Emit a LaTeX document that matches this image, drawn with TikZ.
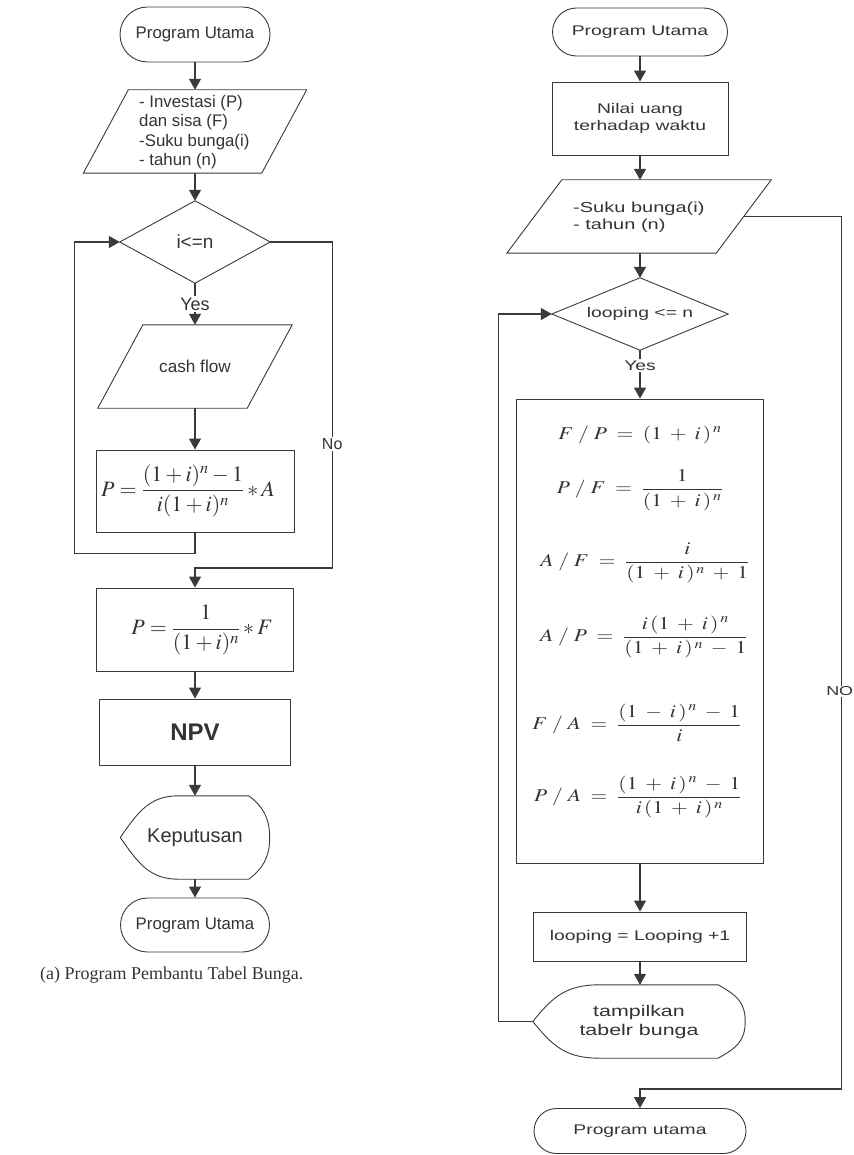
\documentclass[tikz,border=0pt]{standalone}
\usepackage{amsmath}
\usepackage{mathptmx}
\usepackage[no-math]{fontspec}
\usepackage{graphicx}
\setmainfont{Liberation Serif}
\newfontfamily\lsans{Liberation Sans}
\newfontfamily\rsans[FakeStretch=1.38]{Liberation Sans}
\usetikzlibrary{shapes.geometric,shapes.misc,arrows.meta,calc}
\definecolor{lc}{HTML}{3A3A3A}
\definecolor{tc}{HTML}{333333}
\newcommand\paradraw[2]{\draw[shp] (#1.south west) -- ($(#1.north west)+(#2,0)$) -- (#1.north east) -- ($(#1.south east)+(-#2,0)$) -- cycle;}
\newcommand\diadraw[1]{\draw[shp] (#1.north) -- (#1.east) -- (#1.south) -- (#1.west) -- cycle;}
\newcommand\dispdraw[3]{\draw[shp] (#1.west) .. controls +({0.3*#2},-25) and +({-0.5*#2},0) .. ($(#1.north west)+(#2,0)$) -- ($(#1.north east)+(-#3,0)$) .. controls +({0.65*#3},10) and +(0,-20) .. (#1.east) .. controls +(0,20) and +({0.65*#3},-10) .. ($(#1.south east)+(-#3,0)$) -- ($(#1.south west)+(#2,0)$) .. controls +({-0.5*#2},0) and +({0.3*#2},25) .. (#1.west) -- cycle;}
\newcommand\rmath[1]{\scalebox{1.2}[1]{$\displaystyle #1$}}
\tikzset{
  shp/.style={draw=lc, line width=0.9pt},
  con/.style={draw=lc, line width=1.2pt},
  arr/.style={con, -{Triangle[length=11pt,width=12pt]}},
  lfont/.style={font=\lsans\fontsize{16.8}{19.5}\selectfont, text=tc},
  rfont/.style={font=\rsans\fontsize{14}{17.5}\selectfont, text=tc},
  term/.style={shp, rounded rectangle, inner sep=0pt},
  proc/.style={shp, rectangle, inner sep=0pt},
  ghost/.style={rectangle, inner sep=0pt, draw=none},
  lab/.style={fill=white, inner sep=1.5pt},
  lmath/.style={font=\fontsize{22}{26}\selectfont, text=tc, inner sep=0pt},
  rmathst/.style={font=\fontsize{18}{21}\selectfont, text=tc, inner sep=0pt},
}
\begin{document}
\begin{tikzpicture}[x=1pt,y=-1pt]
\useasboundingbox (0,0) rectangle (853,1155);
% ---------------- left chart ----------------
\node[term, lfont, minimum width=150pt, minimum height=55pt] (t1) at (195,34.5) {Program Utama};
\node[ghost, minimum width=223pt, minimum height=83pt] (p1) at (195,131.5) {};
\paradraw{p1}{45}
\node[lfont, align=left, anchor=west, inner sep=0pt] (p1t) at (139,132) {- Investasi (P)\\dan sisa (F)\\-Suku bunga(i)\\- tahun (n)};
\node[ghost, lfont, font=\lsans\fontsize{19}{22}\selectfont, minimum width=150pt, minimum height=82pt] (d1) at (195,242) {i<=n};
\diadraw{d1}
\node[ghost, lfont, font=\lsans\fontsize{17.2}{20}\selectfont, minimum width=194pt, minimum height=83pt] (p2) at (195,366.5) {cash flow};
\paradraw{p2}{45}
\node[proc, minimum width=198pt, minimum height=82pt] (b1) at (195,491) {};
\node[lmath] (f1) at (188,491) {$P=\dfrac{(1+i)^n -1}{i(1+i)^n}*A$};
\node[proc, minimum width=197pt, minimum height=83pt] (b2) at (195,629.5) {};
\node[lmath] (f2) at (202,630) {$P=\dfrac{1}{(1+i)^n}*F$};
\node[proc, minimum width=191pt, minimum height=66pt, font=\lsans\bfseries\fontsize{24}{28}\selectfont, text=tc] (b3) at (195,732) {NPV};
\node[ghost, lfont, font=\lsans\fontsize{20}{24}\selectfont, minimum width=149pt, minimum height=83pt] (k1) at (195,837.5) {Keputusan};
\dispdraw{k1}{58}{21}
\node[term, lfont, minimum width=149pt, minimum height=54pt] (t2) at (195,925) {Program Utama};
\node[font=\fontsize{18}{22}\selectfont, anchor=west, text=tc, inner sep=0pt] (cap) at (40,975) {(a) Program Pembantu Tabel Bunga.};
% left connectors
\draw[arr] (t1.south) -- (p1.north);
\draw[arr] (p1.south) -- (d1.north);
\draw[arr] (d1.south) -- node[lab, lfont, font=\lsans\fontsize{18}{21}\selectfont, pos=0.5]{Yes} (p2.north);
\draw[arr] (p2.south) -- (b1.north);
\draw[arr] (b1.south) -- ++(0,21) -| ($(d1.west)+(-45,0)$) -- (d1.west);
\draw[arr] (d1.east) -- ++(62,0) -- ++(0,326) node[lab, lfont, font=\lsans\fontsize{16}{19}\selectfont, pos=0.62]{No} -| (b2.north);
\draw[arr] (b2.south) -- (b3.north);
\draw[arr] (b3.south) -- (k1.north);
\draw[arr] (k1.south) -- (t2.north);
% ---------------- right chart ----------------
\node[term, rfont, minimum width=175pt, minimum height=48pt] (t3) at (640,32) {Program Utama};
\node[proc, rfont, align=center, minimum width=176pt, minimum height=73pt] (b4) at (640,118.5) {Nilai uang\\terhadap waktu};
\node[ghost, minimum width=264pt, minimum height=73pt] (p3) at (639,216.5) {};
\paradraw{p3}{55}
\node[rfont, font=\rsans\fontsize{14.5}{17.5}\selectfont, align=left, anchor=west, inner sep=0pt] (p3t) at (573,217) {-Suku bunga(i)\\- tahun (n)};
\node[ghost, rfont, minimum width=176pt, minimum height=72pt] (d2) at (640,314) {looping <= n};
\diadraw{d2}
\node[proc, minimum width=247pt, minimum height=464pt] (b5) at (640,631) {};
\node[rmathst] (g1) at (640,435) {\rmath{F\;/\;P\;=\;(1\;+\;i\,)^{\,n}}};
\node[rmathst] (g2) at (640,490) {\rmath{P\;/\;F\;=\;\frac{1}{(1\;+\;i\,)^{\,n}}}};
\node[rmathst] (g3) at (645,563) {\rmath{A\;/\;F\;=\;\frac{i}{(1\;+\;i\,)^{\,n}\;+\;1}}};
\node[rmathst] (g4) at (644,637) {\rmath{A\;/\;P\;=\;\frac{i\,(1\;+\;i\,)^{\,n}}{(1\;+\;i\,)^{\,n}\;-\;1}}};
\node[rmathst] (g5) at (637,723) {\rmath{F\;/\;A\;=\;\frac{(1\;-\;i\,)^{\,n}\;-\;1}{i}}};
\node[rmathst] (g6) at (638,797) {\rmath{P\;/\;A\;=\;\frac{(1\;+\;i\,)^{\,n}\;-\;1}{i\,(1\;+\;i\,)^{\,n}}}};
\node[proc, rfont, minimum width=213pt, minimum height=49pt] (b6) at (640,936.5) {looping = Looping +1};
\node[ghost, rfont, font=\rsans\fontsize{15.5}{19}\selectfont, align=center, minimum width=212pt, minimum height=73pt] (k2) at (639,1021.5) {tampilkan\\tabelr bunga};
\dispdraw{k2}{67}{27}
\node[term, rfont, minimum width=212pt, minimum height=45pt] (t4) at (640,1131) {Program utama};
% right connectors
\draw[arr] (t3.south) -- (b4.north);
\draw[arr] (b4.south) -- (b4.south |- p3.north);
\draw[arr] (d2.north |- p3.south) -- (d2.north);
\draw[arr] (d2.south) -- node[lab, rfont, pos=0.32]{Yes} (b5.north);
\draw[arr] (b5.south) -- (b6.north);
\draw[arr] (b6.south) -- (b6.south |- k2.north);
\draw[arr] (k2.west) -- ++(-34,0) |- (d2.west);
\draw[arr] ($(p3.east)+(-27.5,0)$) -- ++(97.5,0) -- ++(0,872.5) node[lab, font=\rsans\fontsize{13}{16}\selectfont, text=tc, inner sep=1pt, pos=0.544, xshift=-1.5pt]{NO} -| (t4.north);
\end{tikzpicture}
\end{document}
